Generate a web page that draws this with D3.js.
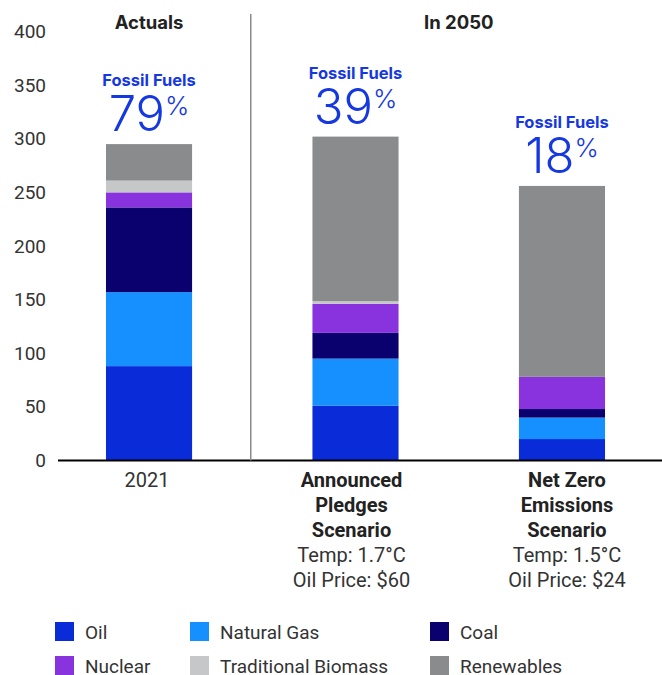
<!DOCTYPE html>
<html>
<head>
<meta charset="utf-8">
<script src="https://cdn.jsdelivr.net/npm/d3@7"></script>
<style>
  html, body { margin: 0; padding: 0; background: #fff; }
  svg { display: block; }
</style>
</head>
<body>
<svg id="chart" width="662" height="675"></svg>
<script>
// ---------------- data ----------------
const categories = ["2021", "Announced Pledges Scenario", "Net Zero Emissions Scenario"];
const seriesNames = ["Oil", "Natural Gas", "Coal", "Nuclear", "Traditional Biomass", "Renewables"];
const oil        = [88, 51, 20];
const naturalGas = [69, 44, 20];
const coal       = [79, 24, 8];
const nuclear    = [14, 27, 30];
const biomass    = [11, 2.5, 0];
const renewables = [34, 153.5, 178];
const fossilShare = [79, 39, 18];
const yTicks = [0, 50, 100, 150, 200, 250, 300, 350, 400];
const groupTitles = ["Actuals", "In 2050"];
const xLabelBold = [[], ["Announced", "Pledges", "Scenario"], ["Net Zero", "Emissions", "Scenario"]];
const xLabelPlain = [["2021"], ["Temp: 1.7°C", "Oil Price: $60"], ["Temp: 1.5°C", "Oil Price: $24"]];

const colors = ["#0a2bd8", "#1690ff", "#0a006e", "#8833dd", "#c6c7c9", "#8a8b8d"];
const fossilColor = "#1538e0";
const textColor = "#333333";
const sans = "Roboto, 'Liberation Sans', sans-serif";
const titleFont = "Inter, Roboto, sans-serif";

// ---------------- build ----------------
const rows = categories.map((c, i) => ({
  cat: c,
  "Oil": oil[i], "Natural Gas": naturalGas[i], "Coal": coal[i],
  "Nuclear": nuclear[i], "Traditional Biomass": biomass[i], "Renewables": renewables[i]
}));
const stacked = d3.stack().keys(seriesNames)(rows);

const svg = d3.select("#chart");

const y = d3.scaleLinear().domain([0, 400]).range([460.5, 31.5]);
const x = d3.scaleBand().domain(categories).range([58, 653])
  .paddingInner(0.583).paddingOuter(0.2324);

// y axis labels (no line)
const yAxis = d3.axisLeft(y).tickValues(yTicks).tickSize(0).tickPadding(0);
const gy = svg.append("g").attr("transform", "translate(46,0)").call(yAxis);
gy.select(".domain").remove();
gy.selectAll("text")
  .attr("font-family", sans).attr("font-size", 19).attr("fill", textColor);

// bars
const color = d3.scaleOrdinal().domain(seriesNames).range(colors);
svg.append("g").selectAll("g").data(stacked).join("g")
  .attr("fill", d => color(d.key))
  .selectAll("rect").data(d => d).join("rect")
  .attr("x", d => x(d.data.cat))
  .attr("width", x.bandwidth())
  .attr("y", d => y(d[1]))
  .attr("height", d => y(d[0]) - y(d[1]));

// baseline
svg.append("line")
  .attr("x1", 58).attr("x2", 662)
  .attr("y1", y(0)).attr("y2", y(0))
  .attr("stroke", "#000").attr("stroke-width", 2);

// divider
const divX = (x(categories[0]) + x.bandwidth() + x(categories[1])) / 2 - 1.5;
svg.append("line")
  .attr("x1", divX).attr("x2", divX)
  .attr("y1", 14).attr("y2", y(0))
  .attr("stroke", "#8a8a8a").attr("stroke-width", 1.5);

// group titles
const cx = c => x(c) + x.bandwidth() / 2;
const titleX = [cx(categories[0]), (cx(categories[1]) + cx(categories[2])) / 2];
svg.append("g").selectAll("text").data(groupTitles).join("text")
  .attr("x", (d, i) => titleX[i]).attr("y", 29)
  .attr("text-anchor", "middle")
  .attr("font-family", titleFont).attr("font-weight", 700).attr("font-size", 18.5)
  .attr("fill", "#222")
  .text(d => d);

// fossil share labels
const totals = rows.map(r => d3.sum(seriesNames, k => r[k]));
const fl = svg.append("g").selectAll("g").data(categories).join("g");
fl.append("text")
  .attr("x", d => cx(d)).attr("y", (d, i) => y(totals[i]) - 58)
  .attr("text-anchor", "middle")
  .attr("font-family", titleFont).attr("font-weight", 700).attr("font-size", 16.5)
  .attr("fill", fossilColor)
  .text("Fossil Fuels");
const pct = fl.append("text")
  .attr("x", d => cx(d)).attr("y", (d, i) => y(totals[i]) - 13)
  .attr("text-anchor", "middle")
  .attr("font-family", titleFont).attr("fill", fossilColor);
pct.append("tspan").attr("font-size", 49).attr("font-weight", 300)
  .text((d, i) => fossilShare[i]);
pct.append("tspan").attr("font-size", 26).attr("font-weight", 300)
  .attr("dy", -16).text("%");

// x labels
const labelOffset = [-2, -4, 5];
const xl = svg.append("g").selectAll("g").data(categories).join("g")
  .attr("transform", (d, i) => `translate(${cx(d) + labelOffset[i]},0)`);
xl.each(function(d, i) {
  const g = d3.select(this);
  const lines = xLabelBold[i].map(t => ({t, b: true})).concat(xLabelPlain[i].map(t => ({t, b: false})));
  g.selectAll("text").data(lines).join("text")
    .attr("x", 0).attr("y", (l, j) => 487 + j * 25)
    .attr("text-anchor", "middle")
    .attr("font-family", sans).attr("font-size", 20)
    .attr("font-weight", l => l.b ? 700 : 400)
    .attr("fill", l => l.b ? "#222" : textColor)
    .text(l => l.t);
});

// legend
const legX = [55, 190, 430];
const legY = [622, 656];
const leg = svg.append("g").selectAll("g").data(seriesNames).join("g")
  .attr("transform", (d, i) => `translate(${legX[i % 3]},${legY[Math.floor(i / 3)]})`);
leg.append("rect").attr("width", 19).attr("height", 19).attr("fill", d => color(d));
leg.append("text").attr("x", 30).attr("y", 16.5)
  .attr("font-family", sans).attr("font-size", 19).attr("fill", textColor)
  .text(d => d);
</script>
</body>
</html>
